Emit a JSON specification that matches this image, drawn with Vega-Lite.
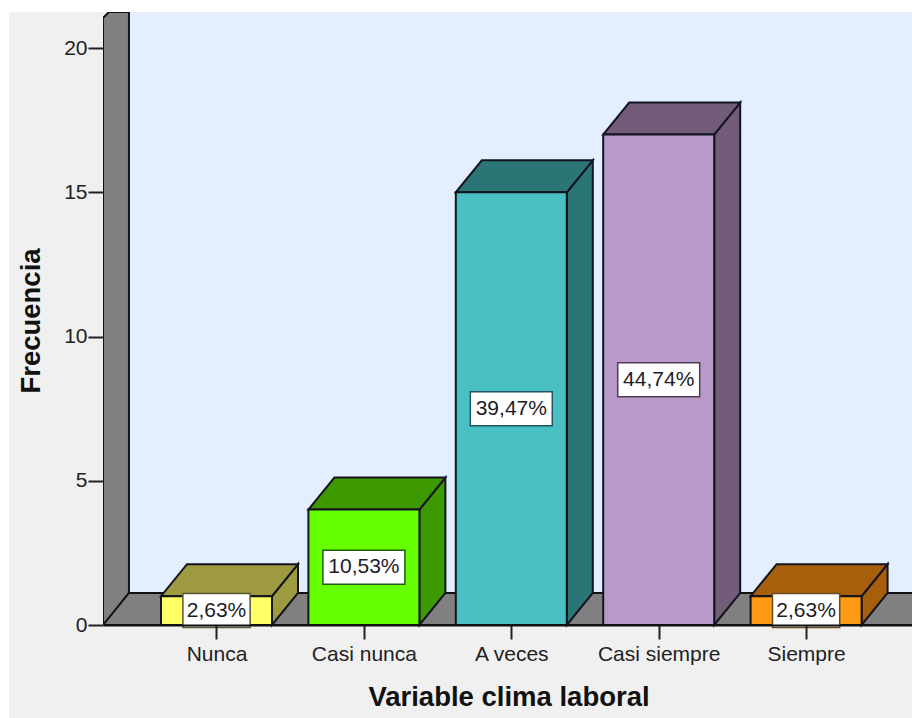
{
  "$schema": "https://vega.github.io/schema/vega-lite/v6.json",
  "autosize": {"type": "none"},
  "padding": {"left": 103, "top": 12, "right": 0, "bottom": 93},
  "width": 809,
  "height": 613,
  "background": "#ffffff",
  "view": {"stroke": null},
  "config": {"font": "Liberation Sans"},
  "params": [
    {"name": "hw", "value": 0.3765},
    {"name": "dep", "value": 0.1764},
    {"name": "rise", "value": 1.11}
  ],
  "datasets": {
    "barras": [
      {"categoria": "Nunca", "frecuencia": 1, "porcentaje": "2,63%"},
      {"categoria": "Casi nunca", "frecuencia": 4, "porcentaje": "10,53%"},
      {"categoria": "A veces", "frecuencia": 15, "porcentaje": "39,47%"},
      {"categoria": "Casi siempre", "frecuencia": 17, "porcentaje": "44,74%"},
      {"categoria": "Siempre", "frecuencia": 1, "porcentaje": "2,63%"}
    ],
    "panel": [{"u0": -0.408, "u1": 5.7185, "v0": -3.3, "v1": 21.25}],
    "pared": [{"u0": 0.406, "u1": 5.7185, "v0": 1.11, "v1": 21.25}],
    "lateral": [
      {"u": 0.23, "v0": 0, "v1": 21.04},
      {"u": 0.27, "v0": 0.2, "v1": 21.25},
      {"u": 0.406, "v0": 1.11, "v1": 21.25}
    ],
    "suelo": [
      {"u": 0.23, "v0": 0, "v1": 0},
      {"u": 0.406, "v0": 0, "v1": 1.11},
      {"u": 5.8, "v0": 0, "v1": 1.11}
    ]
  },
  "data": {"name": "barras"},
  "transform": [
    {"window": [{"op": "row_number", "as": "pos"}]},
    {"calculate": "datum.frecuencia / 2", "as": "medio"}
  ],
  "layer": [
    {
      "data": {"name": "panel"},
      "transform": [],
      "mark": {"type": "rect", "fill": "#f0f0f0", "clip": false},
      "encoding": {
        "x": {
          "field": "u0", "type": "quantitative",
          "scale": {"domain": [0.23, 5.7185], "nice": false, "zero": false},
          "axis": {
            "values": [1, 2, 3, 4, 5],
            "labelExpr": "['Nunca','Casi nunca','A veces','Casi siempre','Siempre'][datum.value-1]",
            "title": "Variable clima laboral",
            "titleFontSize": 27.5, "titleFontWeight": "bold", "titleColor": "#111111", "titlePadding": 19, "titleX": 405.5,
            "labelFontSize": 21, "labelColor": "#222222", "labelPadding": 4, "labelFlush": false,
            "tickSize": 14, "tickWidth": 2, "tickColor": "#222222",
            "domainWidth": 2, "domainColor": "#111111", "grid": false, "zindex": 1
          }
        },
        "x2": {"field": "u1"},
        "y": {
          "field": "v0", "type": "quantitative",
          "scale": {"domain": [0, 21.25], "nice": false, "zero": false},
          "axis": {
            "values": [0, 5, 10, 15, 20],
            "title": "Frecuencia",
            "titleFontSize": 27.5, "titleFontWeight": "bold", "titleColor": "#111111", "titlePadding": 18, "titleY": 308.5,
            "labelFontSize": 21, "labelColor": "#222222", "labelPadding": 1,
            "tickSize": 15, "tickWidth": 2, "tickColor": "#222222",
            "domain": false, "grid": false, "zindex": 1
          }
        },
        "y2": {"field": "v1"}
      }
    },
    {
      "data": {"name": "pared"},
      "transform": [],
      "mark": {"type": "rect", "fill": "#e3efff"},
      "encoding": {
        "x": {"field": "u0", "type": "quantitative", "scale": {"domain": [0.23, 5.7185], "nice": false, "zero": false}},
        "x2": {"field": "u1"},
        "y": {"field": "v0", "type": "quantitative", "scale": {"domain": [0, 21.25], "nice": false, "zero": false}},
        "y2": {"field": "v1"}
      }
    },
    {
      "data": {"name": "lateral"},
      "transform": [],
      "mark": {"type": "area", "orient": "vertical", "fill": "#808080", "stroke": "#111111", "strokeWidth": 2, "clip": true},
      "encoding": {
        "x": {"field": "u", "type": "quantitative", "scale": {"domain": [0.23, 5.7185], "nice": false, "zero": false}},
        "y": {"field": "v0", "type": "quantitative", "scale": {"domain": [0, 21.25], "nice": false, "zero": false}},
        "y2": {"field": "v1"}
      }
    },
    {
      "data": {"name": "suelo"},
      "transform": [],
      "mark": {"type": "area", "orient": "vertical", "fill": "#808080", "stroke": "#111111", "strokeWidth": 2, "clip": true},
      "encoding": {
        "x": {"field": "u", "type": "quantitative", "scale": {"domain": [0.23, 5.7185], "nice": false, "zero": false}},
        "y": {"field": "v0", "type": "quantitative", "scale": {"domain": [0, 21.25], "nice": false, "zero": false}},
        "y2": {"field": "v1"}
      }
    },
    {
      "transform": [
        {"calculate": "datum.categoria + ' sombra'", "as": "tono"},
        {"calculate": "datum.pos + hw", "as": "a"},
        {"calculate": "datum.pos + hw + dep", "as": "b"},
        {"fold": ["a", "b"], "as": ["vertice", "u"]},
        {"calculate": "datum.vertice === 'a' ? 0 : rise", "as": "v0"},
        {"calculate": "datum.frecuencia + datum.v0", "as": "v1"}
      ],
      "mark": {"type": "area", "orient": "vertical", "stroke": "#14141e", "strokeWidth": 2},
      "encoding": {
        "x": {"field": "u", "type": "quantitative", "scale": {"domain": [0.23, 5.7185], "nice": false, "zero": false}},
        "y": {"field": "v0", "type": "quantitative", "scale": {"domain": [0, 21.25], "nice": false, "zero": false}},
        "y2": {"field": "v1"},
        "fill": {
          "field": "tono", "type": "nominal", "legend": null,
          "scale": {
            "domain": ["Nunca", "Casi nunca", "A veces", "Casi siempre", "Siempre", "Nunca sombra", "Casi nunca sombra", "A veces sombra", "Casi siempre sombra", "Siempre sombra"],
            "range": ["#ffff66", "#66ff00", "#48c0c4", "#b899c9", "#ff9a14", "#9e9a40", "#3c9900", "#2c7577", "#735c7a", "#a85f0c"]
          }
        }
      }
    },
    {
      "transform": [
        {"calculate": "datum.categoria + ' sombra'", "as": "tono"},
        {"calculate": "datum.pos - hw", "as": "a"},
        {"calculate": "datum.pos - hw + dep", "as": "b"},
        {"calculate": "datum.pos + hw", "as": "c"},
        {"calculate": "datum.pos + hw + dep", "as": "d"},
        {"fold": ["a", "b", "c", "d"], "as": ["vertice", "u"]},
        {"calculate": "datum.vertice === 'd' ? datum.frecuencia + rise : datum.frecuencia", "as": "v0"},
        {"calculate": "datum.vertice === 'a' ? datum.frecuencia : datum.frecuencia + rise", "as": "v1"}
      ],
      "mark": {"type": "area", "orient": "vertical", "stroke": "#14141e", "strokeWidth": 2},
      "encoding": {
        "x": {"field": "u", "type": "quantitative", "scale": {"domain": [0.23, 5.7185], "nice": false, "zero": false}},
        "y": {"field": "v0", "type": "quantitative", "scale": {"domain": [0, 21.25], "nice": false, "zero": false}},
        "y2": {"field": "v1"},
        "fill": {
          "field": "tono", "type": "nominal", "legend": null,
          "scale": {
            "domain": ["Nunca", "Casi nunca", "A veces", "Casi siempre", "Siempre", "Nunca sombra", "Casi nunca sombra", "A veces sombra", "Casi siempre sombra", "Siempre sombra"],
            "range": ["#ffff66", "#66ff00", "#48c0c4", "#b899c9", "#ff9a14", "#9e9a40", "#3c9900", "#2c7577", "#735c7a", "#a85f0c"]
          }
        }
      }
    },
    {
      "transform": [
        {"calculate": "datum.pos - hw", "as": "a"},
        {"calculate": "datum.pos + hw", "as": "b"},
        {"calculate": "0", "as": "base"}
      ],
      "mark": {"type": "rect", "stroke": "#14141e", "strokeWidth": 2},
      "encoding": {
        "x": {"field": "a", "type": "quantitative", "scale": {"domain": [0.23, 5.7185], "nice": false, "zero": false}},
        "x2": {"field": "b"},
        "y": {"field": "base", "type": "quantitative", "scale": {"domain": [0, 21.25], "nice": false, "zero": false}},
        "y2": {"field": "frecuencia"},
        "fill": {
          "field": "categoria", "type": "nominal", "legend": null,
          "scale": {
            "domain": ["Nunca", "Casi nunca", "A veces", "Casi siempre", "Siempre", "Nunca sombra", "Casi nunca sombra", "A veces sombra", "Casi siempre sombra", "Siempre sombra"],
            "range": ["#ffff66", "#66ff00", "#48c0c4", "#b899c9", "#ff9a14", "#9e9a40", "#3c9900", "#2c7577", "#735c7a", "#a85f0c"]
          }
        }
      }
    },
    {
      "transform": [
        {"calculate": "length(datum.porcentaje) > 5 ? 0.278 : 0.228", "as": "semi"},
        {"calculate": "datum.pos - datum.semi", "as": "a"},
        {"calculate": "datum.pos + datum.semi", "as": "b"},
        {"calculate": "datum.medio - 0.59", "as": "v0"},
        {"calculate": "datum.medio + 0.59", "as": "v1"}
      ],
      "mark": {"type": "rect", "fill": "#ffffff", "strokeWidth": 1.5},
      "encoding": {
        "x": {"field": "a", "type": "quantitative", "scale": {"domain": [0.23, 5.7185], "nice": false, "zero": false}},
        "x2": {"field": "b"},
        "y": {"field": "v0", "type": "quantitative", "scale": {"domain": [0, 21.25], "nice": false, "zero": false}},
        "y2": {"field": "v1"},
        "stroke": {
          "field": "categoria", "type": "nominal", "legend": null,
          "scale": {
            "domain": ["Nunca", "Casi nunca", "A veces", "Casi siempre", "Siempre"],
            "range": ["#5a5830", "#1f5a10", "#1f5560", "#4c3c58", "#6a4a20"]
          }
        }
      }
    },
    {
      "mark": {"type": "text", "fontSize": 21, "color": "#1c1c24", "align": "center", "baseline": "middle"},
      "encoding": {
        "x": {"field": "pos", "type": "quantitative", "scale": {"domain": [0.23, 5.7185], "nice": false, "zero": false}},
        "y": {"field": "medio", "type": "quantitative", "scale": {"domain": [0, 21.25], "nice": false, "zero": false}},
        "text": {"field": "porcentaje"}
      }
    }
  ]
}
